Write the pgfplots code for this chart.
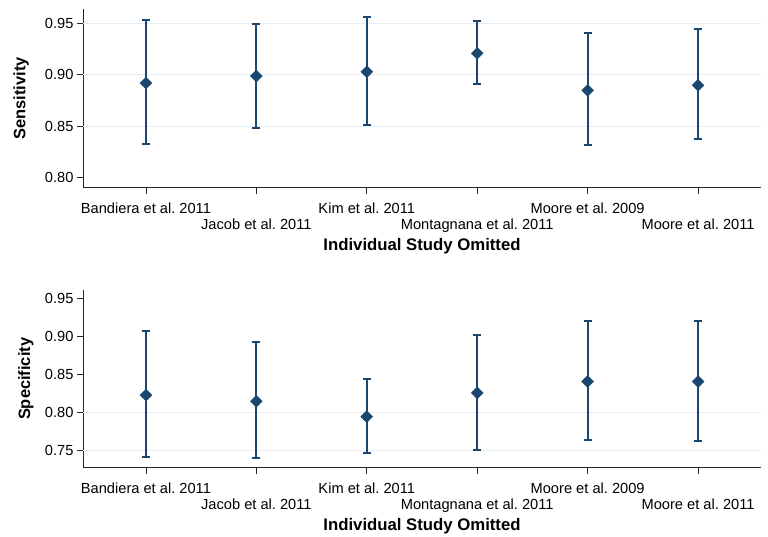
\documentclass[border=0pt]{standalone}
\usepackage{pgfplots}
\usepackage{pgfplotstable}
\pgfplotsset{compat=1.18}
\usepackage{fontspec}
\setmainfont{Liberation Sans}
\frenchspacing
\definecolor{navy}{HTML}{1A476F}
\definecolor{gridc}{HTML}{E6EEF1}
\pgfplotstableread{
x y lo hi
0 0.8919 0.8325 0.9533
1 0.8987 0.8486 0.9497
2 0.9029 0.8513 0.9562
3 0.9209 0.8912 0.9520
4 0.8848 0.8315 0.9410
5 0.8897 0.8376 0.9442
}\sens
\pgfplotstableread{
x y lo hi
0 0.8224 0.7412 0.9066
1 0.8145 0.7395 0.8916
2 0.7942 0.7464 0.8441
3 0.8254 0.7504 0.9008
4 0.8403 0.7639 0.9197
5 0.8403 0.7622 0.9197
}\spec
\pgfplotsset{
  mystyle/.style={
    scale only axis, width=678bp,
    axis x line*=bottom, axis y line*=left,
    axis line style={-, line width=0.9bp, black!85},
    xmin=-0.57, xmax=5.57,
    xtick={0,...,5},
    xticklabels={{\strut Bandiera et al. 2011}, {\strut\\\strut Jacob et al. 2011}, {\strut Kim et al. 2011}, {\strut\\\strut Montagnana et al. 2011}, {\strut Moore et al. 2009}, {\strut\\\strut Moore et al. 2011}},
    xticklabel style={anchor=north, align=center, font=\fontsize{14.7}{16}\selectfont, yshift=-5bp},
    yticklabel style={font=\fontsize{14.7}{16}\selectfont},
    tick align=outside, major tick length=6bp,
    tick style={black!85, line width=0.8bp},
    /pgf/number format/assume math mode=true,
    yticklabel={\pgfmathprintnumber[fixed, fixed zerofill, precision=2]{\tick}},
    xlabel={Individual Study Omitted},
    xlabel style={font=\bfseries\fontsize{16.8}{18}\selectfont, at={(axis description cs:0.5,0)}, anchor=center, yshift=-58bp},
    ylabel style={font=\bfseries\fontsize{16.5}{18}\selectfont, anchor=center},
    extra y tick labels={},
    extra y tick style={major tick length=0pt, ymajorgrids=true, major grid style={gridc, line width=1bp}},
  },
  pts/.style={
    navy, only marks, mark=square*, mark size=4.2bp, mark options={rotate=45, navy},
    error bars/.cd, y dir=both, y explicit,
    error bar style={navy, line width=2bp},
    error mark options={navy, line width=2bp, mark size=4bp, rotate=90},
  },
}
\begin{document}
\begin{tikzpicture}
\useasboundingbox (0,0) rectangle (768bp,-537bp);
\begin{axis}[mystyle,
  at={(83bp,-187.7bp)}, anchor=south west, height=178.7bp,
  ymin=0.79, ymax=0.964,
  ytick={0.80,0.85,0.90,0.95},
  extra y ticks={0.85,0.90,0.95},
  ylabel={Sensitivity},
  ylabel style={at={(axis description cs:-0.0914,0.5)}},
]
\addplot+[pts] table[x=x, y=y, y error plus expr=\thisrow{hi}-\thisrow{y}, y error minus expr=\thisrow{y}-\thisrow{lo}] {\sens};
\end{axis}
\begin{axis}[mystyle,
  at={(83bp,-467.7bp)}, anchor=south west, height=177.7bp,
  ymin=0.7271, ymax=0.9605,
  ytick={0.75,0.80,0.85,0.90,0.95},
  extra y ticks={0.75,0.80},
  ylabel={Specificity},
  ylabel style={at={(axis description cs:-0.0841,0.5)}},
]
\addplot+[pts] table[x=x, y=y, y error plus expr=\thisrow{hi}-\thisrow{y}, y error minus expr=\thisrow{y}-\thisrow{lo}] {\spec};
\end{axis}
\end{tikzpicture}
\end{document}
